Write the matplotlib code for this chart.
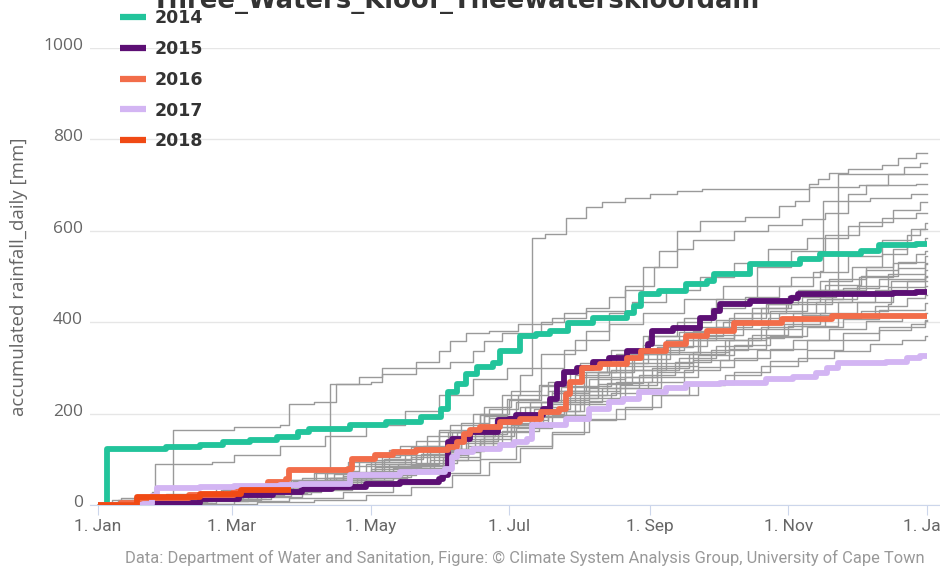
import matplotlib.pyplot as plt
from matplotlib.lines import Line2D
import matplotlib.transforms as mtransforms

# accumulated daily rainfall, (day of year, mm) step points
past_a = [(0,0),(10,5),(28,15),(50,25),(70,40),(90,60),(110,85),(125,110),(140,140),(155,175),(170,215),(182,250),(195,300),(205,340),(215,380),(225,420),(232,470),(240,520),(247,556),(255,600),(265,622),(285,630),(300,655),(307,666),(313,703),(317,714),(322,727),(330,736),(345,743),(352,760),(360,771)]
past_b = [(0,0),(15,8),(35,20),(60,35),(85,55),(101,79),(102,264),(120,270),(125,286),(140,299),(155,314),(165,336),(170,358),(178,376),(195,400),(205,420),(215,430),(225,455),(232,480),(245,520),(255,560),(262,580),(280,600),(295,612),(310,625),(320,640),(330,680),(338,700),(348,725),(355,740),(362,749)]
past_c = [(0,0),(12,4),(30,12),(55,22),(80,40),(100,55),(120,75),(140,110),(160,150),(175,180),(190,215),(205,250),(220,290),(235,330),(250,360),(265,390),(280,420),(295,440),(310,455),(325,468),(326,725)]
past_d = [(0,0),(14,5),(35,14),(58,25),(80,40),(100,60),(118,90),(135,120),(150,160),(165,200),(178,240),(186,285),(191,584),(197,593),(206,628),(215,651),(222,662),(232,672),(243,681),(255,688),(266,692),(313,695),(335,700),(360,703)]
past_e = [(0,0),(20,6),(40,14),(62,28),(85,42),(105,60),(125,85),(145,115),(160,150),(175,185),(188,215),(200,250),(215,290),(228,330),(242,370),(258,410),(272,450),(290,480),(305,500),(318,512),(319,665),(340,672),(358,681)]
past_f = [(0,0),(6,12),(24,29),(25,90),(50,95),(60,110),(80,130),(100,150),(118,175),(135,205),(150,240),(165,275),(180,300),(195,330),(210,360),(225,395),(240,420),(258,450),(275,480),(290,520),(305,555),(320,590),(335,620),(350,645),(362,662)]
past_g = [(0,0),(10,8),(32,20),(33,165),(60,171),(80,176),(84,220),(95,226),(105,264),(115,281),(125,299),(140,314),(150,336),(155,358),(162,376),(172,380),(185,395),(200,410),(215,425),(235,445),(250,470),(265,500),(280,530),(295,560),(312,585),(330,610),(345,628),(360,640)]
past_h = [(0,0),(15,10),(35,22),(55,35),(75,50),(95,70),(110,95),(128,120),(145,150),(160,180),(172,210),(185,240),(198,270),(212,310),(226,340),(240,370),(255,400),(270,430),(285,455),(300,480),(315,510),(330,545),(345,580),(358,605),(364,618)]
past_i = [(0,0),(18,3),(40,10),(60,20),(85,35),(110,55),(130,80),(148,110),(163,140),(176,170),(190,200),(205,235),(220,265),(235,295),(250,330),(265,360),(280,385),(295,410),(310,440),(323,470),(338,520),(350,560),(356,590),(362,604)]
past_j = [(0,0),(10,15),(30,25),(52,40),(75,55),(96,75),(115,105),(133,130),(150,165),(168,200),(181,230),(195,260),(210,285),(225,310),(242,340),(258,370),(275,400),(292,430),(305,460),(318,490),(332,520),(345,550),(356,570),(364,585)]
past_k = [(0,0),(22,8),(45,18),(68,30),(90,45),(112,65),(132,90),(150,120),(166,155),(180,190),(195,225),(210,260),(226,295),(240,330),(256,360),(272,390),(288,420),(303,445),(318,470),(335,500),(350,530),(360,550),(364,556)]
past_l = [(0,0),(12,5),(33,15),(58,30),(82,48),(104,68),(122,95),(140,125),(156,160),(170,195),(184,225),(198,250),(214,280),(230,310),(246,345),(262,380),(278,410),(294,440),(308,470),(322,495),(338,515),(352,532),(364,545)]
past_m = [(0,0),(25,4),(48,12),(72,25),(94,40),(116,60),(136,85),(153,115),(168,145),(182,175),(196,205),(212,240),(228,270),(244,300),(260,330),(276,360),(292,390),(306,420),(320,450),(334,480),(348,505),(364,527)]
past_n = [(0,0),(16,12),(38,22),(62,35),(86,52),(108,72),(126,100),(143,130),(158,160),(172,190),(186,215),(200,245),(216,275),(232,305),(248,335),(264,365),(280,395),(296,425),(312,450),(328,475),(344,495),(364,515)]
past_o = [(0,0),(30,5),(52,14),(76,28),(98,44),(118,62),(138,88),(155,118),(170,150),(183,185),(198,220),(214,250),(230,280),(246,310),(262,335),(278,360),(294,385),(310,415),(326,445),(342,470),(356,490),(364,501)]
past_p = [(0,0),(8,3),(26,9),(50,18),(74,30),(97,46),(120,66),(140,92),(158,122),(174,160),(190,195),(206,225),(222,255),(238,285),(254,312),(270,340),(286,365),(302,395),(318,420),(334,445),(350,465),(364,480)]
past_q = [(0,0),(20,2),(44,8),(66,18),(90,32),(112,50),(133,72),(152,98),(168,135),(182,170),(198,205),(214,235),(230,262),(246,290),(262,318),(278,342),(294,368),(310,392),(326,415),(342,435),(356,452),(364,460)]
past_r = [(0,0),(28,10),(54,22),(78,36),(100,55),(120,78),(138,104),(155,135),(170,170),(185,200),(200,230),(216,255),(232,280),(248,305),(264,328),(280,350),(296,370),(312,390),(328,408),(344,427),(364,442)]
past_s = [(0,0),(14,4),(36,12),(58,22),(82,35),(104,50),(126,70),(146,98),(163,130),(178,162),(194,192),(210,220),(226,245),(242,270),(258,295),(274,318),(290,340),(306,362),(322,385),(338,402),(354,415),(364,420)]
past_t = [(0,0),(35,3),(60,8),(84,16),(108,28),(130,46),(150,70),(168,100),(184,130),(200,160),(216,188),(232,215),(248,240),(264,265),(280,290),(296,315),(312,340),(328,362),(344,382),(358,396),(364,402)]
past_u = [(0,0),(40,2),(70,6),(95,12),(118,22),(138,40),(156,65),(172,95),(186,125),(200,155),(214,185),(228,210),(244,240),(260,262),(276,285),(292,305),(308,322),(324,338),(340,352),(354,362),(364,369)]
past_v = [(0,0),(18,6),(42,16),(64,28),(88,44),(108,64),(128,90),(146,122),(162,158),(176,192),(190,226),(204,258),(220,290),(236,320),(252,348),(268,372),(284,398),(300,420),(316,444),(332,462),(348,478),(364,490)]
past_w = [(0,0),(9,10),(30,18),(54,32),(78,48),(100,70),(120,98),(138,128),(154,160),(168,198),(180,232),(194,262),(208,292),(224,320),(240,350),(256,378),(272,405),(288,432),(304,458),(320,482),(336,502),(352,518),(364,530)]
past_x = [(0,0),(26,6),(48,14),(70,26),(92,40),(114,58),(134,80),(152,106),(168,135),(184,168),(200,198),(216,228),(232,255),(248,280),(264,302),(280,322),(296,342),(312,360),(328,376),(344,390),(364,405)]
past_y = [(0,0),(12,8),(34,16),(56,28),(80,42),(102,60),(122,84),(142,112),(160,145),(176,178),(192,210),(208,240),(224,268),(240,296),(256,322),(272,348),(288,372),(304,392),(320,410),(336,425),(348,440),(349,490),(364,500)]

y2014 = [(0,0),(4,123),(30,127),(45,132),(55,138),(67,143),(79,149),(88,160),(93,167),(111,176),(127,182),(142,193),(151,211),(154,248),(158,264),(162,286),(167,303),(174,310),(177,336),(186,369),(193,374),(199,380),(207,398),(218,409),(233,420),(236,435),(239,461),(247,468),(259,483),(268,490),(271,505),(287,527),(309,538),(318,549),(336,556),(344,569),(360,571)]
y2015 = [(0,0),(25,5),(45,13),(62,22),(77,29),(90,35),(103,40),(118,46),(133,51),(150,57),(152,66),(154,138),(156,145),(164,160),(176,187),(181,189),(184,198),(196,211),(199,233),(202,264),(205,292),(211,299),(218,314),(225,321),(233,336),(242,352),(244,380),(253,387),(265,409),(271,424),(274,440),(287,446),(305,453),(308,462),(350,464),(360,466)]
y2016 = [(0,0),(10,5),(20,15),(40,22),(60,35),(75,50),(83,57),(84,77),(110,79),(112,101),(122,110),(130,116),(140,121),(154,127),(158,138),(161,156),(164,165),(168,171),(177,182),(186,189),(195,204),(203,211),(206,242),(208,270),(213,299),(221,308),(233,321),(239,336),(250,352),(259,369),(268,380),(280,398),(301,407),(323,413)]
y2017 = [(0,0),(20,2),(24,20),(26,38),(45,40),(60,42),(80,44),(89,46),(111,66),(133,73),(153,79),(156,105),(158,116),(165,123),(177,132),(183,138),(189,145),(191,176),(206,189),(216,211),(225,226),(231,233),(238,248),(250,255),(259,264),(274,266),(294,275),(306,281),(316,288),(321,299),(326,310),(347,314),(356,321),(362,325)]
y2018 = [(0,0),(17,18),(45,24),(63,33),(85,33)]

past_years = [past_a, past_b, past_c, past_d, past_e, past_f, past_g, past_h, past_i, past_j, past_k,
              past_l, past_m, past_n, past_o, past_p, past_q, past_r, past_s, past_t, past_u,
              past_v, past_w, past_x, past_y]
years = ['2014', '2015', '2016', '2017', '2018']
year_data = [y2014, y2015, y2016, y2017, y2018]
year_colors = ['#22c49b', '#5c0f74', '#f26d4a', '#d3b5f3', '#f04a14']

month_days = [0, 59, 120, 181, 243, 304, 365]
month_labels = ['1. Jan', '1. Mar', '1. May', '1. Jul', '1. Sep', '1. Nov', '1. Jan']
title = 'Three_Waters_Kloof_Theewaterskloofdam'
credits = 'Data: Department of Water and Sanitation, Figure: \u00a9 Climate System Analysis Group, University of Cape Town'


def steps(pts, end=365):
    d = [p[0] for p in pts]
    v = [p[1] for p in pts]
    if end is not None and d[-1] < end:
        d.append(end)
        v.append(v[-1])
    return d, v


fig = plt.figure(figsize=(9.4, 5.67), dpi=100)
ax = fig.add_axes([90/940, 62/567, 850/940, 457/567])

for pts in past_years:
    d, v = steps(pts)
    ax.plot(d, v, drawstyle='steps-post', color='#9a9a9a', lw=1.0, zorder=2)

handles = []
for name, pts, col in zip(years, year_data, year_colors):
    d, v = steps(pts, end=None if name == '2018' else 365)
    ax.plot(d, v, drawstyle='steps-post', color=col, lw=4.2, zorder=3,
            solid_capstyle='butt')
    handles.append(Line2D([], [], color=col, lw=4.5, solid_capstyle='butt'))

ax.set_xlim(-3.5, 370.7)
ax.set_ylim(0, 1000)
ax.set_yticks([0, 200, 400, 600, 800, 1000])
ax.set_xticks(month_days)
ax.set_xticklabels(month_labels)
ax.grid(axis='y', color='#e6e6e6', lw=1)
ax.set_axisbelow(True)
for s in ['top', 'right', 'left']:
    ax.spines[s].set_visible(False)
ax.spines['bottom'].set_color('#ccd6eb')
ax.spines['bottom'].set_zorder(1)
ax.tick_params(axis='y', length=0, pad=5, labelsize=12.5, labelcolor='#666666')
ax.tick_params(axis='x', length=7, color='#ccd6eb', pad=3, labelsize=12.5, labelcolor='#666666')
for lab in ax.get_xticklabels():
    lab.set_family('Roboto')
for lab in ax.get_yticklabels():
    lab.set_family('Open Sans')
    lab.set_transform(lab.get_transform() + mtransforms.ScaledTranslation(0, 4/100, fig.dpi_scale_trans))

ax.set_ylabel('accumulated rainfall_daily [mm]', fontsize=13.5, color='#666666', family='Open Sans')
ax.yaxis.set_label_coords(-62/850, 0.5)

fig.text(456/940, 1 - 8/567, title, ha='center', va='baseline', fontsize=18.6,
         fontweight='bold', color='#333333')
fig.text(925/940, 1 - 558/567, credits, ha='right', va='center', fontsize=11.9,
         color='#999999', family='Roboto')

fig.legend(handles, years, loc='upper left', bbox_to_anchor=(120/940, 1 - 9/567),
           frameon=False, borderpad=0, borderaxespad=0, handlelength=1.5,
           handletextpad=0.5, labelspacing=0.74,
           prop={'weight': 'bold', 'size': 12.5})
for t in fig.legends[0].get_texts():
    t.set_color('#333333')

fig.savefig('out.png', dpi=100)
